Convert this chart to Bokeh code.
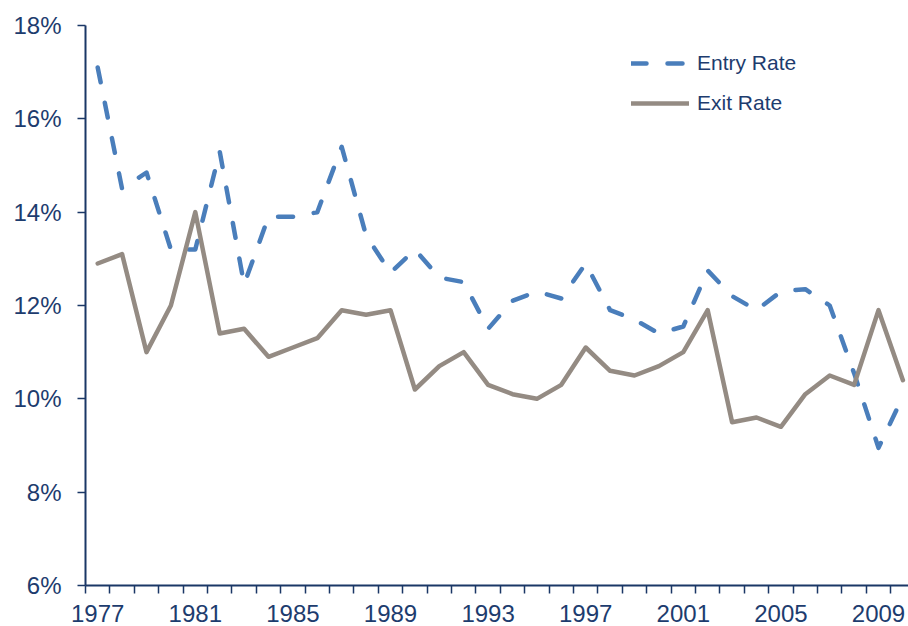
from bokeh.plotting import figure
from bokeh.models import FixedTicker, PrintfTickFormatter, Range1d
from bokeh.embed import file_html
from bokeh.resources import INLINE

years = list(range(1977, 2011))
entry_rate = [17.1, 14.5, 14.85, 13.2, 13.2, 15.3, 12.45, 13.9, 13.9, 14.0,
              15.4, 13.5, 12.7, 13.2, 12.6, 12.5, 11.5, 12.1, 12.3, 12.15,
              12.9, 11.9, 11.7, 11.4, 11.55, 12.75, 12.2, 11.9, 12.3, 12.35,
              12.0, 10.55, 8.95, 10.05]
exit_rate = [12.9, 13.1, 11.0, 12.0, 14.0, 11.4, 11.5, 10.9, 11.1, 11.3,
             11.9, 11.8, 11.9, 10.2, 10.7, 11.0, 10.3, 10.1, 10.0, 10.3,
             11.1, 10.6, 10.5, 10.7, 11.0, 11.9, 9.5, 9.6, 9.4, 10.1,
             10.5, 10.3, 11.9, 10.4]
x_tick_labels = [1977, 1981, 1985, 1989, 1993, 1997, 2001, 2005, 2009]
y_ticks = [6, 8, 10, 12, 14, 16, 18]

NAVY = "#1d3c6e"
AXIS = "#1a3766"
BLUE = "#4a7ebb"
GREY = "#948b83"
FONT = "Liberation Sans"

px_per_year = 24.4
frame_w = 823
x_start = years[0] - 0.5
x_end = x_start + frame_w / px_per_year

p = figure(width=908, height=626, output_backend="svg", toolbar_location=None,
           x_range=Range1d(x_start, x_end), y_range=Range1d(6, 18),
           min_border_left=85, min_border_right=0, min_border_top=25,
           min_border_bottom=41)
p.outline_line_color = None
p.xgrid.grid_line_color = None
p.ygrid.grid_line_color = None
p.background_fill_color = "white"
p.border_fill_color = "white"

p.line(years, entry_rate, line_color=BLUE, line_width=4.5, line_dash="15 21",
       line_cap="round", line_join="round", legend_label="Entry Rate")
p.line(years, exit_rate, line_color=GREY, line_width=4.5,
       line_cap="round", line_join="round", legend_label="Exit Rate")

# x axis
minor = [y - 0.5 for y in years] + [years[-1] + 0.5]
p.xaxis.ticker = FixedTicker(ticks=x_tick_labels, minor_ticks=minor)
p.xaxis.axis_line_color = AXIS
p.xaxis.axis_line_width = 2
p.xaxis.major_tick_out = 0
p.xaxis.major_tick_in = 0
p.xaxis.minor_tick_out = 8
p.xaxis.minor_tick_in = 0
p.xaxis.minor_tick_line_color = AXIS
p.xaxis.minor_tick_line_width = 1.5
p.xaxis.major_label_standoff = 11
p.xaxis.major_label_text_font = FONT
p.xaxis.major_label_text_font_size = "24px"
p.xaxis.major_label_text_color = NAVY

# y axis
p.yaxis.ticker = FixedTicker(ticks=y_ticks, minor_ticks=[])
p.yaxis.formatter = PrintfTickFormatter(format="%d%%")
p.yaxis.axis_line_color = AXIS
p.yaxis.axis_line_width = 2
p.yaxis.major_tick_out = 8
p.yaxis.major_tick_in = 0
p.yaxis.major_tick_line_color = AXIS
p.yaxis.major_tick_line_width = 1.5
p.yaxis.minor_tick_out = 0
p.yaxis.minor_tick_in = 0
p.yaxis.major_label_standoff = 16
p.yaxis.major_label_text_font = FONT
p.yaxis.major_label_text_font_size = "24px"
p.yaxis.major_label_text_color = NAVY

# legend
lg = p.legend[0]
lg.location = (546, 470)
lg.glyph_width = 58
lg.glyph_height = 20
lg.label_height = 20
lg.label_standoff = 8
lg.spacing = 16
lg.padding = 0
lg.margin = 0
lg.border_line_color = None
lg.background_fill_alpha = 0
lg.label_text_font = FONT
lg.label_text_font_size = "21px"
lg.label_text_color = NAVY

open("out.html", "w").write(file_html(p, INLINE))
